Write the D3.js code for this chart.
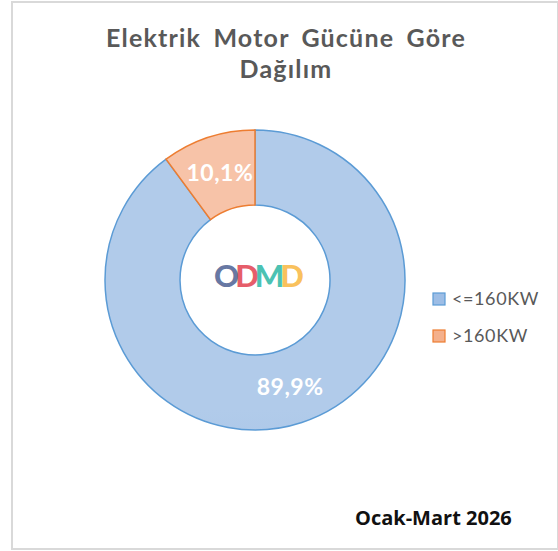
<!DOCTYPE html>
<html>
<head>
<meta charset="utf-8">
<script src="https://cdn.jsdelivr.net/npm/d3@7"></script>
<style>
  body { margin: 0; background: #fff; }
  svg { display: block; }
</style>
</head>
<body>
<svg id="chart" width="558" height="551"></svg>
<script>
const categories = ["<=160KW", ">160KW"];
const values = [89.9, 10.1];
const labels = ["89,9%", "10,1%"];
const titleLines = ["Elektrik Motor Gücüne Göre", "Dağılım"];
const period = "Ocak-Mart 2026";
const logoLetters = ["O", "D", "M", "D"];

const W = 558, H = 551;
const cx = 255, cy = 280, outerR = 150, innerR = 75;

const svg = d3.select("#chart");

// gradients like the spreadsheet fills
const defs = svg.append("defs");
const grads = [
    { id: "gBlue", top: "#b1cbea", bottom: "#8cb3e0" },
    { id: "gOrange", top: "#f7c3a8", bottom: "#f3a47c" }
];
grads.forEach(g => {
    let lg = defs.append("linearGradient")
        .attr("id", g.id)
        .attr("gradientUnits", "userSpaceOnUse")
        .attr("x1", 0).attr("y1", cy - outerR)
        .attr("x2", 0).attr("y2", cy + outerR);
    lg.append("stop").attr("offset", "0%").attr("stop-color", g.top);
    lg.append("stop").attr("offset", "100%").attr("stop-color", g.bottom);
});

const color = d3.scaleOrdinal()
    .domain(categories)
    .range(["url(#gBlue)", "url(#gOrange)"]);
const stroke = d3.scaleOrdinal()
    .domain(categories)
    .range(["#5b9bd5", "#ed7d31"]);
const swatch = d3.scaleOrdinal()
    .domain(categories)
    .range(["#9dbde5", "#f4b08c"]);

// outer frame
svg.append("rect")
    .attr("x", 12).attr("y", 2)
    .attr("width", W - 12).attr("height", H - 4)
    .attr("fill", "none")
    .attr("stroke", "#d9d9d9")
    .attr("stroke-width", 2);

// title
svg.append("g")
    .selectAll("text")
    .data(titleLines)
    .enter()
    .append("text")
    .attr("x", 286)
    .attr("y", (d, i) => 47 + i * 31)
    .attr("text-anchor", "middle")
    .attr("font-family", "Lato, 'DejaVu Sans', sans-serif")
    .attr("font-weight", "bold")
    .attr("font-size", 25)
    .attr("letter-spacing", 1.2)
    .attr("word-spacing", 5)
    .attr("fill", "#595959")
    .text(d => d);

const data = categories.map((c, i) => ({ name: c, value: values[i], label: labels[i] }));

const pie = d3.pie()
    .sort(null)
    .value(d => d.value);

const arc = d3.arc()
    .innerRadius(innerR)
    .outerRadius(outerR);

const g = svg.append("g")
    .attr("transform", `translate(${cx},${cy})`);

const slices = g.selectAll(".slice")
    .data(pie(data))
    .enter()
    .append("g")
    .attr("class", "slice");

slices.append("path")
    .attr("d", arc)
    .attr("fill", d => color(d.data.name))
    .attr("stroke", d => stroke(d.data.name))
    .attr("stroke-width", 1.5);

slices.append("text")
    .attr("transform", d => `translate(${arc.centroid(d)})`)
    .attr("dy", "0.35em")
    .attr("text-anchor", "middle")
    .attr("font-family", "Lato, 'DejaVu Sans', sans-serif")
    .attr("font-weight", "bold")
    .attr("font-size", 23)
    .attr("letter-spacing", 0.5)
    .attr("fill", "#fff")
    .text(d => d.data.label);

// logo in the hole, one text with overlapping letters
const logoColors = ["#4d5f93", "#e2404f", "#2bb7a6", "#f8b640"];
svg.append("text")
    .attr("x", 257)
    .attr("y", 287)
    .attr("text-anchor", "middle")
    .attr("font-family", "Lato, 'DejaVu Sans', sans-serif")
    .attr("font-weight", "900")
    .attr("font-size", 31)
    .attr("letter-spacing", -4)
    .selectAll("tspan")
    .data(logoLetters)
    .enter()
    .append("tspan")
    .attr("fill", (d, i) => logoColors[i])
    .attr("fill-opacity", 0.85)
    .text(d => d);

// legend
const legend = svg.append("g")
    .selectAll(".legend")
    .data(categories)
    .enter()
    .append("g")
    .attr("class", "legend")
    .attr("transform", (d, i) => `translate(433, ${293 + i * 37})`);

legend.append("rect")
    .attr("width", 12).attr("height", 12)
    .attr("fill", d => swatch(d))
    .attr("stroke", d => stroke(d))
    .attr("stroke-width", 1.2);

legend.append("text")
    .attr("x", 19)
    .attr("y", 6)
    .attr("dy", "0.35em")
    .attr("font-family", "Lato, 'DejaVu Sans', sans-serif")
    .attr("font-size", 18)
    .attr("letter-spacing", 0.6)
    .attr("fill", "#595959")
    .text(d => d);

// period note
svg.append("text")
    .attr("x", 355)
    .attr("y", 525)
    .attr("font-family", "'Open Sans', 'Liberation Sans', sans-serif")
    .attr("font-weight", "bold")
    .attr("font-size", 20)
    .attr("fill", "#111")
    .text(period);
</script>
</body>
</html>
